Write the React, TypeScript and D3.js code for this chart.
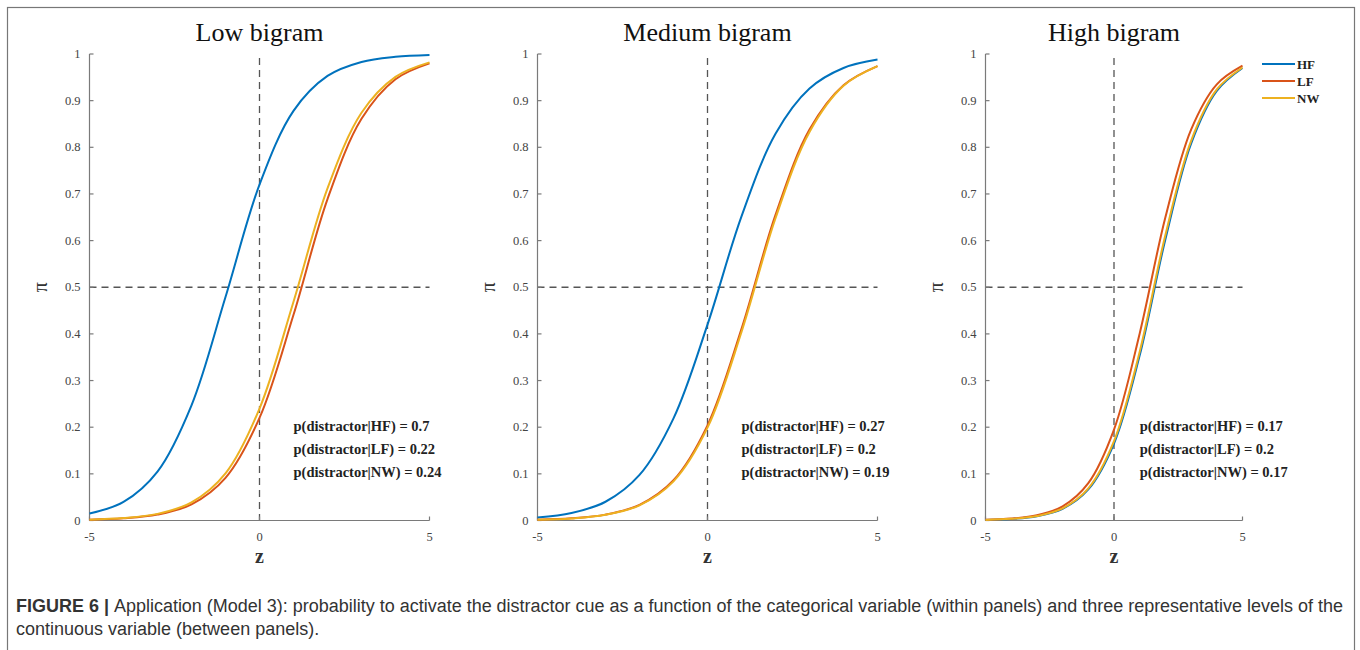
import React from "react";
import * as d3 from "d3";

// z grid and curve readings (pi) per panel
const zValues = [-5, -4, -3, -2, -1, 0, 1, 2, 3, 4, 5];

const lowHF = [0.015, 0.04, 0.105, 0.247, 0.479, 0.72, 0.878, 0.953, 0.983, 0.994, 0.998];
const lowLF = [0.0016, 0.0046, 0.0127, 0.0347, 0.0915, 0.22, 0.441, 0.689, 0.861, 0.946, 0.98];
const lowNW = [0.0018, 0.0051, 0.0142, 0.0387, 0.101, 0.24, 0.469, 0.712, 0.874, 0.951, 0.982];

const medHF = [0.0062, 0.0159, 0.0402, 0.0977, 0.219, 0.42, 0.652, 0.829, 0.926, 0.97, 0.988];
const medLF = [0.0017, 0.0047, 0.0126, 0.0336, 0.0863, 0.204, 0.411, 0.655, 0.838, 0.933, 0.974];
const medNW = [0.0017, 0.0045, 0.0123, 0.0326, 0.0839, 0.199, 0.404, 0.648, 0.833, 0.932, 0.974];

const highHF = [0.0012, 0.0033, 0.0092, 0.0251, 0.0666, 0.165, 0.354, 0.603, 0.808, 0.921, 0.97];
const highLF = [0.0015, 0.0041, 0.0112, 0.0305, 0.0802, 0.195, 0.401, 0.65, 0.838, 0.935, 0.975];
const highNW = [0.0013, 0.0035, 0.0095, 0.0259, 0.0687, 0.17, 0.362, 0.612, 0.814, 0.924, 0.971];

const panelTitles = ["Low bigram", "Medium bigram", "High bigram"];
const seriesNames = ["HF", "LF", "NW"];
const seriesColors = ["#0072BD", "#D95319", "#EDB120"];
const pHF = ["0.7", "0.27", "0.17"];
const pLF = ["0.22", "0.2", "0.2"];
const pNW = ["0.24", "0.19", "0.17"];

const yTicks = [0, 0.1, 0.2, 0.3, 0.4, 0.5, 0.6, 0.7, 0.8, 0.9, 1];
const xTicks = [-5, 0, 5];

const panelData = [
  [lowHF, lowLF, lowNW],
  [medHF, medLF, medNW],
  [highHF, highLF, highNW],
];
// left / right pixel of each panel's x axis
const panelX = [
  [89.5, 429.5],
  [537.5, 877.5],
  [985.5, 1242.5],
];

const serif = "'Liberation Serif', 'DejaVu Serif', serif";
const sans = "'Liberation Sans', Arial, sans-serif";
const axisColor = "#7a7a7a";
const textColor = "#444";

const Panel = ({ idx }: { idx: number }) => {
  const [x0, x1] = panelX[idx];
  const x = d3.scaleLinear().domain([-5, 5]).range([x0, x1]);
  const y = d3.scaleLinear().domain([0, 1]).range([520.5, 54]);
  const line = d3
    .line<number>()
    .x((_, i) => x(zValues[i]))
    .y((d) => y(d))
    .curve(d3.curveCatmullRom.alpha(0.5));
  const cx = x(0);
  const annX = x(1);
  const p = [pHF[idx], pLF[idx], pNW[idx]];

  return (
    <g>
      <text x={x(0)} y={41} textAnchor="middle" fontFamily={serif} fontSize={26} fill="#111">
        {panelTitles[idx]}
      </text>

      {/* dashed reference lines */}
      <line x1={cx} x2={cx} y1={y(1) + 4} y2={y(0)} stroke="#555" strokeWidth={1.3} strokeDasharray="7,5" />
      <line x1={x(-5)} x2={x(5)} y1={y(0.5)} y2={y(0.5)} stroke="#555" strokeWidth={1.3} strokeDasharray="7,5" />

      {/* axes */}
      <line x1={x0} x2={x0} y1={y(1)} y2={y(0)} stroke={axisColor} strokeWidth={1.2} />
      <line x1={x0} x2={x1} y1={y(0)} y2={y(0)} stroke={axisColor} strokeWidth={1.2} />
      {yTicks.map((t) => (
        <g key={"y" + t}>
          <line x1={x0} x2={x0 + 4} y1={y(t)} y2={y(t)} stroke={axisColor} strokeWidth={1.2} />
          <text x={x0 - 9} y={y(t) + 4} textAnchor="end" fontFamily={serif} fontSize={12.5} fill={textColor}>
            {t}
          </text>
        </g>
      ))}
      {xTicks.map((t) => (
        <g key={"x" + t}>
          <line x1={x(t)} x2={x(t)} y1={y(0)} y2={y(0) - 4} stroke={axisColor} strokeWidth={1.2} />
          <text x={x(t)} y={y(0) + 20} textAnchor="middle" fontFamily={serif} fontSize={12.5} fill={textColor}>
            {t}
          </text>
        </g>
      ))}
      <text x={x(0)} y={y(0) + 42} textAnchor="middle" fontFamily={serif} fontWeight="bold" fontSize={20} fill="#333">
        z
      </text>
      <text
        transform={`translate(${x0 - 47},${y(0.5)}) rotate(-90)`}
        textAnchor="middle"
        dominantBaseline="middle"
        fontFamily={serif}
        fontSize={20}
        fill="#333"
      >
        π
      </text>

      {/* curves */}
      {panelData[idx].map((vals, s) => (
        <path key={s} d={line(vals) || ""} fill="none" stroke={seriesColors[s]} strokeWidth={2} />
      ))}

      {/* annotations */}
      {seriesNames.map((n, s) => (
        <text
          key={n}
          x={annX}
          y={y(0.5) + 144 + s * 23}
          fontFamily={serif}
          fontWeight="bold"
          fontSize={14.5}
          fill="#222"
        >
          {`p(distractor|${n}) = ${p[s]}`}
        </text>
      ))}
    </g>
  );
};

const App = () => {
  return (
    <svg width={1360} height={650} style={{ position: "absolute", left: 0, top: 0 }}>
      <rect x={0} y={0} width={1360} height={650} fill="#fff" />
      <rect x={7.5} y={7.5} width={1347} height={660} fill="none" stroke="#777" strokeWidth={1.2} />

      {[0, 1, 2].map((i) => (
        <Panel key={i} idx={i} />
      ))}

      {/* legend */}
      {seriesNames.map((n, s) => (
        <g key={n}>
          <line x1={1262} x2={1295} y1={64 + s * 17} y2={64 + s * 17} stroke={seriesColors[s]} strokeWidth={2} />
          <text x={1297} y={68.5 + s * 17} fontFamily={serif} fontWeight="bold" fontSize={13} fill="#222">
            {n}
          </text>
        </g>
      ))}

      {/* caption */}
      <text x={16} y={612} fontFamily={sans} fontSize={18} fill="#333" textLength={1327} lengthAdjust="spacingAndGlyphs">
        <tspan fontWeight="bold">FIGURE 6 | </tspan>
        Application (Model 3): probability to activate the distractor cue as a function of the categorical variable (within panels) and three representative levels of the
      </text>
      <text x={16} y={635} fontFamily={sans} fontSize={18} fill="#333">
        continuous variable (between panels).
      </text>
    </svg>
  );
};

export default App;
